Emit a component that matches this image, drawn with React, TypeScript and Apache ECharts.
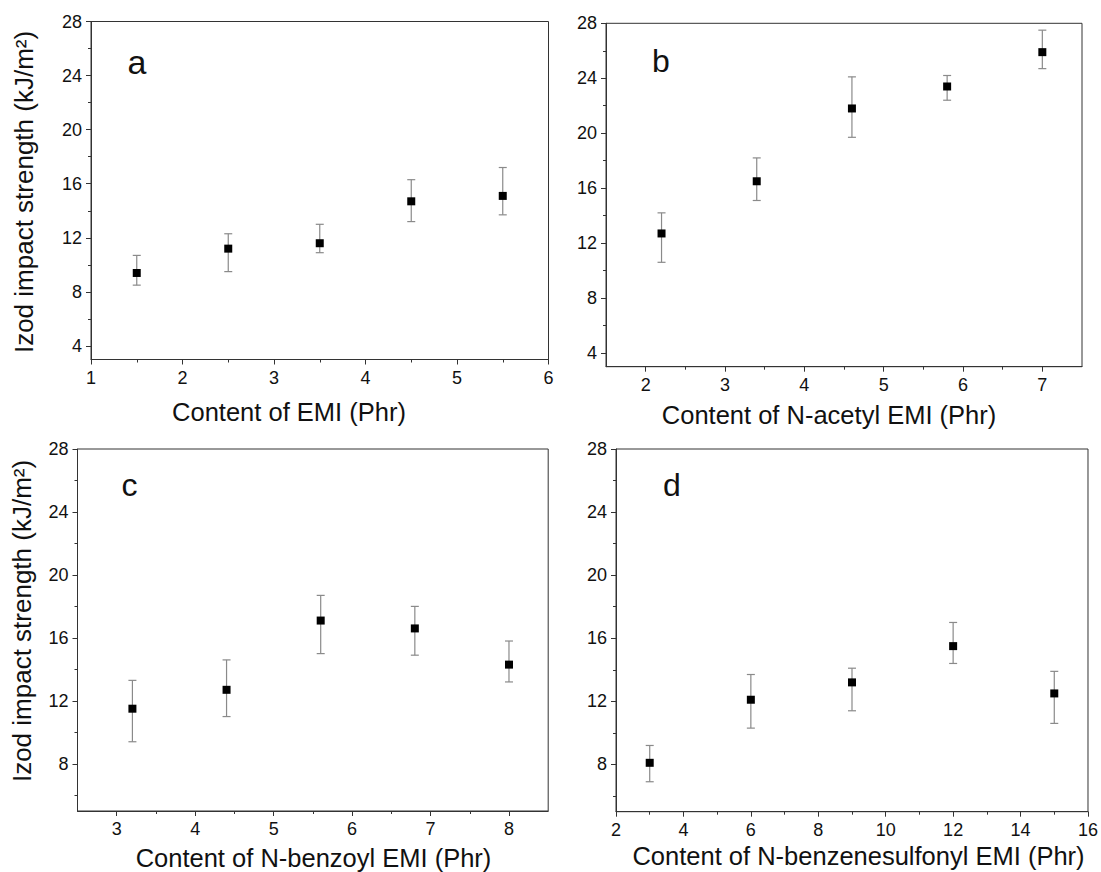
import React, { useEffect, useRef } from "react";
import * as echarts from "echarts";

// Panel a: EMI
const aX = [1.5, 2.5, 3.5, 4.5, 5.5];
const aY = [9.4, 11.2, 11.6, 14.7, 15.1];
const aHi = [10.7, 12.3, 13.0, 16.3, 17.2];
const aLo = [8.5, 9.5, 10.9, 13.2, 13.7];

// Panel b: N-acetyl EMI
const bX = [2.2, 3.4, 4.6, 5.8, 7.0];
const bY = [12.7, 16.5, 21.8, 23.4, 25.9];
const bHi = [14.2, 18.2, 24.1, 24.2, 27.5];
const bLo = [10.6, 15.1, 19.7, 22.4, 24.7];

// Panel c: N-benzoyl EMI
const cX = [3.2, 4.4, 5.6, 6.8, 8.0];
const cY = [11.5, 12.7, 17.1, 16.6, 14.3];
const cHi = [13.3, 14.6, 18.7, 18.0, 15.8];
const cLo = [9.4, 11.0, 15.0, 14.9, 13.2];

// Panel d: N-benzenesulfonyl EMI
const dX = [3, 6, 9, 12, 15];
const dY = [8.1, 12.1, 13.2, 15.5, 12.5];
const dHi = [9.2, 13.7, 14.1, 17.0, 13.9];
const dLo = [6.9, 10.3, 11.4, 14.4, 10.6];

// Tick values
const aXMajor = [1, 2, 3, 4, 5, 6];
const aXMinor = [1.5, 2.5, 3.5, 4.5, 5.5];
const bXMajor = [2, 3, 4, 5, 6, 7];
const bXMinor = [2.5, 3.5, 4.5, 5.5, 6.5];
const cXMajor = [3, 4, 5, 6, 7, 8];
const cXMinor = [3.5, 4.5, 5.5, 6.5, 7.5];
const dXMajor = [2, 4, 6, 8, 10, 12, 14, 16];
const dXMinor = [3, 5, 7, 9, 11, 13, 15];
const yMajorAB = [4, 8, 12, 16, 20, 24, 28];
const yMajorCD = [8, 12, 16, 20, 24, 28];
const yMinor = [6, 10, 14, 18, 22, 26];

const xTitles = [
  "Content of EMI (Phr)",
  "Content of N-acetyl EMI (Phr)",
  "Content of N-benzoyl EMI (Phr)",
  "Content of N-benzenesulfonyl EMI (Phr)",
];
const yTitle = "Izod impact strength (kJ/m²)";
const letters = ["a", "b", "c", "d"];

const FONT = "'Liberation Sans', Arial, Helvetica, sans-serif";
const AXIS_COLOR = "#333";

export default function App() {
  const ref = useRef<HTMLDivElement>(null);

  useEffect(() => {
    if (!ref.current) return;
    const chart = echarts.init(ref.current, undefined, { renderer: "svg" });

    const panels = [
      { grid: { left: 91, top: 21.5, width: 457.5, height: 338 }, xMin: 1, xMax: 6, yMin: 3, yMax: 28, xMaj: aXMajor, xMin2: aXMinor, yMaj: yMajorAB, x: aX, y: aY, hi: aHi, lo: aLo },
      { grid: { left: 606, top: 23.3, width: 476, height: 343.4 }, xMin: 1.5, xMax: 7.5, yMin: 3, yMax: 28, xMaj: bXMajor, xMin2: bXMinor, yMaj: yMajorAB, x: bX, y: bY, hi: bHi, lo: bLo },
      { grid: { left: 77.5, top: 449, width: 470.7, height: 362 }, xMin: 2.5, xMax: 8.5, yMin: 5, yMax: 28, xMaj: cXMajor, xMin2: cXMinor, yMaj: yMajorCD, x: cX, y: cY, hi: cHi, lo: cLo },
      { grid: { left: 616, top: 449, width: 472, height: 362.7 }, xMin: 2, xMax: 16, yMin: 5, yMax: 28, xMaj: dXMajor, xMin2: dXMinor, yMaj: yMajorCD, x: dX, y: dY, hi: dHi, lo: dLo },
    ];

    const grids: any[] = [];
    const xAxes: any[] = [];
    const yAxes: any[] = [];
    const series: any[] = [];

    panels.forEach((p, i) => {
      grids.push({
        ...p.grid,
        containLabel: false,
        show: true,
        borderColor: AXIS_COLOR,
        borderWidth: 1,
        backgroundColor: "transparent",
      });
      const labelStyle = { color: "#111", fontSize: 18, fontFamily: FONT };
      xAxes.push({
        type: "value",
        gridIndex: i,
        position: "bottom",
        min: p.xMin,
        max: p.xMax,
        axisLine: { show: true, lineStyle: { color: AXIS_COLOR, width: 1 } },
        axisTick: { show: true, length: 5, customValues: p.xMaj, lineStyle: { color: AXIS_COLOR } },
        axisLabel: { show: true, customValues: p.xMaj, margin: 9, ...labelStyle },
        splitLine: { show: false },
      });
      xAxes.push({
        type: "value",
        gridIndex: i,
        position: "bottom",
        min: p.xMin,
        max: p.xMax,
        axisLine: { show: false },
        axisTick: { show: true, length: 3, customValues: p.xMin2, lineStyle: { color: AXIS_COLOR } },
        axisLabel: { show: false },
        splitLine: { show: false },
      });
      yAxes.push({
        type: "value",
        gridIndex: i,
        position: "left",
        min: p.yMin,
        max: p.yMax,
        axisLine: { show: true, lineStyle: { color: AXIS_COLOR, width: 1 } },
        axisTick: { show: true, length: 5, customValues: p.yMaj, lineStyle: { color: AXIS_COLOR } },
        axisLabel: { show: true, customValues: p.yMaj, margin: 9, ...labelStyle },
        splitLine: { show: false },
      });
      yAxes.push({
        type: "value",
        gridIndex: i,
        position: "left",
        min: p.yMin,
        max: p.yMax,
        axisLine: { show: false },
        axisTick: { show: true, length: 3, customValues: yMinor, lineStyle: { color: AXIS_COLOR } },
        axisLabel: { show: false },
        splitLine: { show: false },
      });

      const errData = p.x.map((xv, k) => [xv, p.lo[k], p.hi[k]]);
      series.push({
        type: "custom",
        xAxisIndex: i * 2,
        yAxisIndex: i * 2,
        data: errData,
        encode: { x: 0, y: [1, 2] },
        z: 1,
        renderItem: (params: any, api: any) => {
          const xv = api.value(0);
          const pLo = api.coord([xv, api.value(1)]);
          const pHi = api.coord([xv, api.value(2)]);
          const w = 4;
          const style = { stroke: "#8a8a8a", lineWidth: 1.2, fill: "none" };
          return {
            type: "group",
            children: [
              { type: "line", shape: { x1: pLo[0], y1: pLo[1], x2: pHi[0], y2: pHi[1] }, style },
              { type: "line", shape: { x1: pHi[0] - w, y1: pHi[1], x2: pHi[0] + w, y2: pHi[1] }, style },
              { type: "line", shape: { x1: pLo[0] - w, y1: pLo[1], x2: pLo[0] + w, y2: pLo[1] }, style },
            ],
          };
        },
      });
      series.push({
        type: "scatter",
        xAxisIndex: i * 2,
        yAxisIndex: i * 2,
        data: p.x.map((xv, k) => [xv, p.y[k]]),
        symbol: "rect",
        symbolSize: 8,
        itemStyle: { color: "#000", opacity: 1 },
        z: 3,
      });
    });

    const textStyle = (size: number) => ({ fill: "#111", fontSize: size, fontFamily: FONT });
    const center = { textAlign: "center", textVerticalAlign: "middle" };
    const graphic: any[] = [
      { type: "text", x: 137, y: 62, style: { text: letters[0], ...textStyle(34), ...center } },
      { type: "text", x: 661, y: 61, style: { text: letters[1], ...textStyle(32), ...center } },
      { type: "text", x: 129.5, y: 485, style: { text: letters[2], ...textStyle(32), ...center } },
      { type: "text", x: 672, y: 485, style: { text: letters[3], ...textStyle(32), ...center } },
      { type: "text", x: 289, y: 412, style: { text: xTitles[0], ...textStyle(25.5), ...center } },
      { type: "text", x: 829, y: 415, style: { text: xTitles[1], ...textStyle(25.5), ...center } },
      { type: "text", x: 313.5, y: 858, style: { text: xTitles[2], ...textStyle(25.5), ...center } },
      { type: "text", x: 858.5, y: 856, style: { text: xTitles[3], ...textStyle(25.5), ...center } },
      { type: "text", x: 24, y: 192, rotation: Math.PI / 2, style: { text: yTitle, ...textStyle(26), ...center } },
      { type: "text", x: 22, y: 621, rotation: Math.PI / 2, style: { text: yTitle, ...textStyle(26), ...center } },
    ];

    chart.setOption({
      animation: false,
      backgroundColor: "#fff",
      grid: grids,
      xAxis: xAxes,
      yAxis: yAxes,
      series,
      graphic,
    });

    return () => {
      chart.dispose();
    };
  }, []);

  return (
    <div
      ref={ref}
      style={{ position: "absolute", left: 0, top: 0, width: 1101, height: 872 }}
    />
  );
}
